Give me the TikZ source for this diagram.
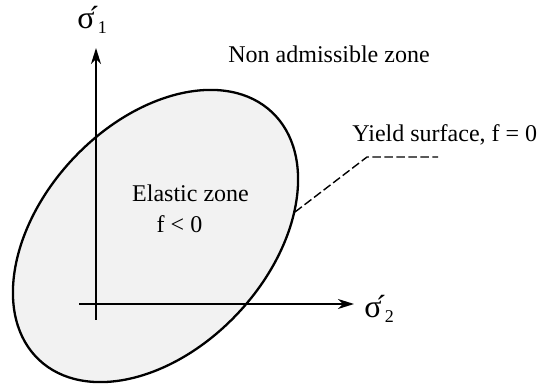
\documentclass[tikz,border=0pt]{standalone}
\usepackage{fontspec}
\setmainfont{Liberation Serif}
\usetikzlibrary{arrows.meta}
\definecolor{elasticfill}{HTML}{F2F2F2}
\newcommand{\sigstress}[1]{{\fontsize{16}{18}\selectfont σ\kern-0.18em\char"00B4}\kern-0.08em\raisebox{-0.5ex}{\fontsize{9}{10}\selectfont #1}}

\begin{document}
\begin{tikzpicture}[x=0.5pt, y=-0.5pt,
    axis/.style={line width=0.85pt, -{Stealth[length=8pt, width=5pt, inset=2.5pt]}},
    zonetext/.style={inner sep=0pt, font=\fontsize{12}{14}\selectfont},
    leader/.style={line width=0.7pt, dash pattern=on 4.3pt off 1.7pt}]
  \useasboundingbox (0,0) rectangle (542,385);
  % yield surface
  \filldraw[fill=elasticfill, line width=1.15pt, rotate around={46.8:(155.5,236)}]
    (155.5,236) ellipse [x radius=85pt, y radius=56.5pt];
  % axes
  \coordinate (vbot) at (96,320);
  \coordinate (vtop) at (96,48);
  \coordinate (hleft) at (79,304);
  \coordinate (hright) at (354,304);
  \draw[axis] (vbot) -- (vtop);
  \draw[axis] (hleft) -- (hright);
  \node[inner sep=0pt, anchor=base west] (sig1) at (77,29) {\sigstress{1}};
  \node[inner sep=0pt, anchor=base west] (sig2) at (364,318) {\sigstress{2}};
  % zones
  \node[zonetext, anchor=base] (nonadm) at (329,63) {Non admissible zone};
  \node[zonetext, anchor=base] (elastic) at (190.5,202) {Elastic zone};
  \node[zonetext, anchor=base] (fneg) at (179.5,233) {f < 0};
  \node[zonetext, anchor=base west] (yield) at (352,142) {Yield surface, f = 0};
  % leader
  \coordinate (onsurf) at (295,212);
  \coordinate (elbow) at (367,157);
  \coordinate (leadend) at (438,157);
  \draw[leader] (onsurf) -- (elbow) -- (leadend);
\end{tikzpicture}
\end{document}
